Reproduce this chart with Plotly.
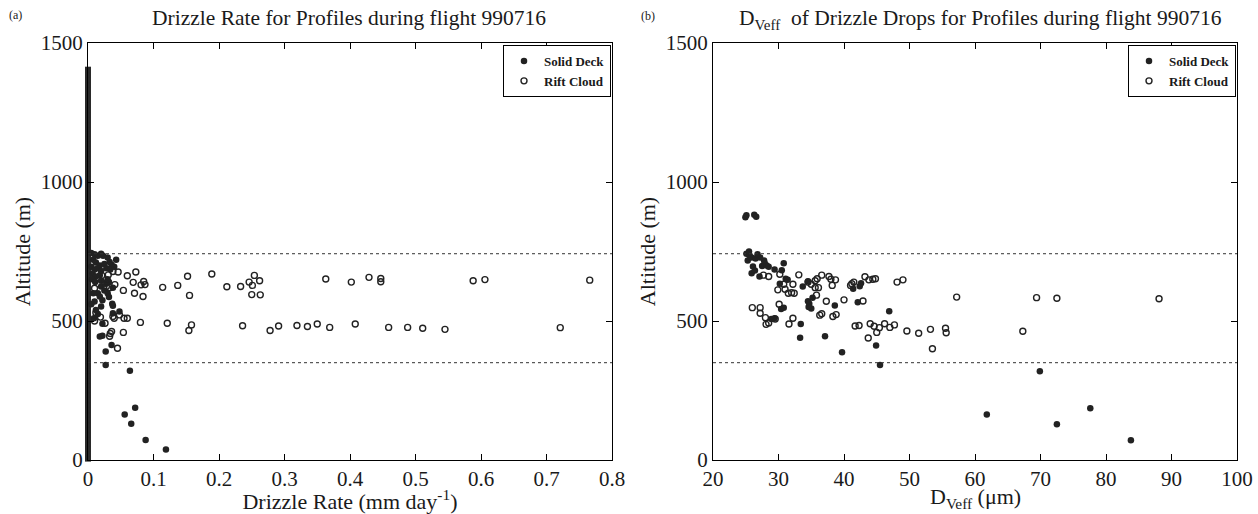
import plotly.graph_objects as go

# ---------------- data ----------------
# (a) Drizzle rate vs altitude
zero_rate_alt = [5, 22, 40, 58, 75, 93, 110, 128, 146, 163, 181, 199, 216, 234, 252, 270,
                 287, 305, 322, 340, 358, 376, 393, 411, 429, 446, 464, 482, 500, 517, 535,
                 553, 570, 588, 606, 624, 641, 659, 677, 694, 712, 730, 748, 765, 783, 801,
                 818, 836, 854, 872, 889, 907, 925, 943, 960, 978, 996, 1013, 1031, 1049,
                 1067, 1084, 1102, 1120, 1138, 1155, 1173, 1191, 1208, 1226, 1244, 1262,
                 1279, 1297, 1315, 1333, 1350, 1368, 1386, 1404]

solid_rate = [0.005, 0.01, 0.015, 0.02, 0.023, 0.03, 0.043, 0.036, 0.033, 0.008, 0.012, 0.018,
              0.025, 0.005, 0.01, 0.015, 0.02, 0.028, 0.034, 0.04, 0.007, 0.012, 0.018, 0.006,
              0.011, 0.02, 0.028, 0.02, 0.032, 0.038, 0.025, 0.03, 0.015, 0.018, 0.022, 0.01,
              0.02, 0.032, 0.037, 0.038, 0.012, 0.009, 0.015, 0.022, 0.038, 0.048, 0.018, 0.022,
              0.036, 0.027, 0.027, 0.064, 0.072, 0.056, 0.066, 0.088, 0.119, 0.005, 0.008, 0.03]
solid_alt = [745, 740, 735, 742, 735, 728, 720, 702, 712, 720, 710, 700,
             705, 695, 685, 690, 680, 690, 685, 695, 670, 660, 665, 650,
             640, 645, 636, 624, 640, 620, 610, 600, 600, 588, 575, 570,
             552, 586, 562, 555, 540, 510, 525, 490, 528, 534, 444, 447,
             414, 390, 342, 321, 188, 164, 130, 72, 38, 560, 600, 650]

rift_rate = [0.021, 0.031, 0.038, 0.046, 0.06, 0.073, 0.069, 0.071, 0.081, 0.085, 0.087, 0.084,
             0.114, 0.137, 0.152, 0.155, 0.189, 0.212, 0.233, 0.246, 0.254, 0.251, 0.262, 0.25,
             0.263, 0.01, 0.026, 0.028, 0.033, 0.041, 0.054, 0.019, 0.038, 0.04, 0.048, 0.055,
             0.06, 0.08, 0.121, 0.158, 0.154, 0.054, 0.036, 0.034, 0.033, 0.045, 0.236, 0.278,
             0.291, 0.319, 0.335, 0.35, 0.369, 0.408, 0.459, 0.488, 0.511, 0.545, 0.721, 0.363,
             0.402, 0.429, 0.447, 0.447, 0.588, 0.606, 0.766, 0.026, 0.012, 0.01]
rift_alt = [664, 666, 678, 676, 663, 676, 639, 600, 630, 642, 631, 588,
            621, 628, 661, 592, 669, 623, 624, 640, 664, 628, 645, 595,
            594, 618, 636, 624, 620, 631, 610, 514, 516, 510, 522, 510,
            510, 495, 492, 486, 466, 459, 462, 455, 445, 402, 483, 466,
            482, 484, 480, 489, 477, 489, 477, 477, 474, 470, 476, 651,
            640, 657, 653, 641, 645, 649, 647, 492, 530, 500]

rate_ticks = [0, 0.1, 0.2, 0.3, 0.4, 0.5, 0.6, 0.7, 0.8]
rate_tick_labels = ["0", "0.1", "0.2", "0.3", "0.4", "0.5", "0.6", "0.7", "0.8"]
alt_ticks = [0, 500, 1000, 1500]

# (b) D_Veff vs altitude
solid_dveff = [24.95, 25.1, 26.3, 26.6, 25.1, 25.6, 25.3, 25.9, 26.5, 27.2, 26.1, 25.9, 26.4,
               27.1, 27.5, 27.9, 28.2, 28.5, 29.4, 30.2, 30.5, 30.8, 31.1, 31.4, 33.7, 34.5,
               35.2, 34.7, 35.0, 33.4, 33.3, 37.1, 38.6, 39.7, 41.4, 42.1, 42.4, 42.6, 44.9,
               45.5, 46.9, 34.6, 34.5, 30.4, 30.8, 28.9, 29.4, 61.8, 69.9, 72.5, 77.6, 83.8,
               25.5, 26.8, 27.8]
solid_dveff_alt = [873, 880, 882, 875, 742, 736, 718, 728, 725, 728, 696, 672, 682,
                   660, 698, 708, 700, 695, 685, 634, 683, 708, 652, 648, 624, 643,
                   584, 562, 545, 489, 440, 445, 556, 388, 616, 567, 625, 636, 412,
                   342, 535, 550, 571, 543, 548, 507, 510, 164, 319, 129, 186, 71,
                   750, 740, 718]

rift_dveff = [26.0, 27.2, 27.2, 28.0, 28.1, 28.5, 29.5, 30.1, 31.6, 32.2, 36.6, 38.8, 43.7,
              44.0, 44.6, 45.0, 41.7, 42.3, 45.4, 46.2, 47.0, 47.7, 49.6, 51.4, 53.2, 55.5,
              55.6, 53.5, 67.3, 30.2, 30.8, 31.0, 29.9, 31.5, 32.0, 32.4, 32.2, 33.1, 34.5,
              35.0, 35.6, 35.9, 36.6, 35.6, 36.1, 35.8, 36.3, 37.3, 37.7, 38.0, 38.2, 38.7,
              38.3, 40.0, 41.0, 41.2, 41.5, 42.9, 43.2, 43.8, 44.4, 44.8, 49.0, 48.1, 57.2,
              69.4, 72.5, 88.1, 28.5, 27.7]
rift_dveff_alt = [548, 548, 528, 512, 488, 493, 507, 560, 489, 510, 526, 523, 439,
                  490, 481, 459, 482, 484, 476, 490, 477, 486, 464, 456, 470, 474,
                  458, 400, 463, 668, 632, 614, 612, 600, 602, 600, 632, 666, 640,
                  632, 645, 652, 665, 620, 620, 593, 521, 571, 660, 650, 628, 648,
                  516, 576, 628, 634, 640, 572, 659, 648, 650, 652, 648, 640, 586,
                  584, 582, 580, 660, 665]

cloud_top = 742
cloud_base = 350

# ---------------- figure ----------------
SERIF = "Liberation Serif"
INK = "#1a1a1a"
fig = go.Figure()

filled = dict(symbol="circle", size=6.5, color="#222222", line=dict(width=0))
opened = dict(symbol="circle-open", size=6, color="#222222", line=dict(width=1.4))
column = dict(symbol="square", size=6, color="#2a2a2a", line=dict(width=0))

fig.add_trace(go.Scatter(x=[0] * len(zero_rate_alt), y=zero_rate_alt, mode="markers",
                         marker=column, showlegend=False, cliponaxis=False,
                         xaxis="x", yaxis="y"))
fig.add_trace(go.Scatter(x=solid_rate, y=solid_alt, mode="markers", name="Solid Deck",
                         marker=filled, cliponaxis=False, xaxis="x", yaxis="y", legend="legend"))
fig.add_trace(go.Scatter(x=rift_rate, y=rift_alt, mode="markers", name="Rift Cloud",
                         marker=opened, cliponaxis=False, xaxis="x", yaxis="y", legend="legend"))

fig.add_trace(go.Scatter(x=solid_dveff, y=solid_dveff_alt, mode="markers", name="Solid Deck",
                         marker=filled, cliponaxis=False, xaxis="x2", yaxis="y2", legend="legend2"))
fig.add_trace(go.Scatter(x=rift_dveff, y=rift_dveff_alt, mode="markers", name="Rift Cloud",
                         marker=opened, cliponaxis=False, xaxis="x2", yaxis="y2", legend="legend2"))

# dotted cloud top / base lines
for xr, yr in (("x domain", "y"), ("x2 domain", "y2")):
    for lvl in (cloud_top, cloud_base):
        fig.add_shape(type="line", xref=xr, yref=yr, x0=0, x1=1, y0=lvl, y1=lvl,
                      line=dict(color="#333333", width=1, dash="dot"))

W, H = 1258, 514
xd1 = [88 / W, 612 / W]
xd2 = [713 / W, 1237 / W]
yd = [1 - 460 / H, 1 - 43 / H]

axis_common = dict(showgrid=False, zeroline=False, showline=True, linecolor="black",
                   linewidth=1, mirror="ticks", ticks="inside", ticklen=6,
                   tickcolor="black", automargin=False,
                   tickfont=dict(family=SERIF, size=21, color=INK))
title_font = dict(family=SERIF, size=22, color=INK)
legend_font = dict(family=SERIF, size=13, color=INK, weight="bold")

fig.update_layout(
    width=W, height=H, margin=dict(l=0, r=0, t=0, b=0, autoexpand=False),
    plot_bgcolor="white", paper_bgcolor="white",
    font=dict(family=SERIF, color=INK),
    xaxis=dict(domain=xd1, range=[0, 0.8], tickvals=rate_ticks, ticktext=rate_tick_labels,
               title=dict(text="Drizzle Rate (mm day<sup>-1</sup>)", font=title_font, standoff=2),
               anchor="y", **axis_common),
    yaxis=dict(domain=yd, range=[0, 1500], tickvals=alt_ticks,
               title=dict(text="Altitude (m)", font=title_font, standoff=4),
               anchor="x", **axis_common),
    xaxis2=dict(domain=xd2, range=[20, 100], dtick=10, anchor="y2", **axis_common),
    yaxis2=dict(domain=yd, range=[0, 1500], tickvals=alt_ticks,
                title=dict(text="Altitude (m)", font=title_font, standoff=4),
                anchor="x2", **axis_common),
    legend=dict(x=611 / W, y=1 - 45 / H, xanchor="right", yanchor="top",
                bordercolor="black", borderwidth=1, bgcolor="white",
                font=legend_font, tracegroupgap=0, itemwidth=30),
    legend2=dict(x=1236 / W, y=1 - 45 / H, xanchor="right", yanchor="top",
                 bordercolor="black", borderwidth=1, bgcolor="white",
                 font=legend_font, tracegroupgap=0, itemwidth=30),
    annotations=[
        dict(text="Drizzle Rate for Profiles during flight 990716", x=349 / W, y=1 - 18 / H,
             xref="paper", yref="paper", xanchor="center", yanchor="middle", showarrow=False,
             font=dict(family=SERIF, size=21.5, color=INK)),
        dict(text="D<sub>Veff</sub>  of Drizzle Drops for Profiles during flight 990716",
             x=980 / W, y=1 - 20 / H, xref="paper", yref="paper", xanchor="center",
             yanchor="middle", showarrow=False, font=dict(family=SERIF, size=21.5, color=INK)),
        dict(text="D<sub>Veff</sub> (\u03bcm)", x=975 / W, y=0, xref="paper", yref="paper",
             xanchor="center", yanchor="bottom", showarrow=False, font=title_font),
        dict(text="(a)", x=15 / W, y=1 - 15 / H, xref="paper", yref="paper", xanchor="center",
             yanchor="middle", showarrow=False, font=dict(family=SERIF, size=12, color=INK)),
        dict(text="(b)", x=648 / W, y=1 - 16 / H, xref="paper", yref="paper", xanchor="center",
             yanchor="middle", showarrow=False, font=dict(family=SERIF, size=12, color=INK)),
    ],
)

fig.write_html("out.html")
